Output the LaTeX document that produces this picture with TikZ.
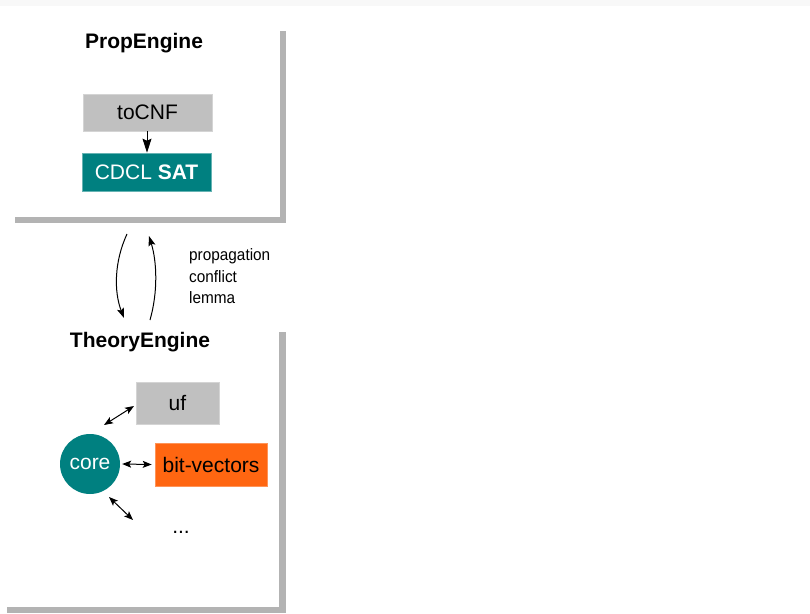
\documentclass[tikz,border=0pt]{standalone}
\usepackage{fontspec}
\setmainfont{Liberation Sans}
\newfontfamily\narrowfont[FakeStretch=0.93]{Liberation Sans}
\usetikzlibrary{arrows.meta}
\definecolor{framegray}{HTML}{B3B3B3}
\definecolor{boxgray}{HTML}{C0C0C0}
\definecolor{boxedge}{HTML}{D4D4D4}
\definecolor{tealfill}{HTML}{008080}
\definecolor{orangefill}{HTML}{FF6611}
\definecolor{stripgray}{HTML}{F8F8F8}
\tikzset{
  frame/.style={fill=framegray, draw=none},
  title/.style={font=\fontsize{21}{25}\selectfont\bfseries, anchor=base},
  plainbox/.style={fill=boxgray, draw=boxedge, line width=0.8pt, inner sep=0pt,
    font=\fontsize{21}{25}\selectfont, text=black},
  tealbox/.style={fill=tealfill, draw=tealfill!60!white, line width=0.6pt, inner sep=0pt,
    font=\fontsize{21}{25}\selectfont, text=white},
  orangebox/.style={fill=orangefill, draw=orangefill!70!white, line width=0.6pt, inner sep=0pt,
    font=\fontsize{21}{25}\selectfont, text=black},
  msg/.style={font=\narrowfont\fontsize{16.5}{19}\selectfont, anchor=base west, inner sep=0pt},
  flow/.style={line width=1pt, -{Stealth[length=14pt,width=9pt,inset=2pt]}},
  curvedflow/.style={line width=1pt, -{Stealth[length=10pt,width=7pt,inset=2pt]}},
  link/.style={line width=1pt,
    {Stealth[length=9pt,width=7pt,inset=2pt]}-{Stealth[length=9pt,width=7pt,inset=2pt]}}
}
\begin{document}
\begin{tikzpicture}[x=1pt, y=-1pt]
\useasboundingbox (0,0) rectangle (810,613);
\fill[white] (0,0) rectangle (810,613);
\fill[stripgray] (0,0) rectangle (810,5.5);

% PropEngine frame
\fill[frame] (280,31) rectangle (286,223);
\fill[frame] (15,217) rectangle (286,223);
\node[title] (prop) at (144,48.5) {PropEngine};
\node[plainbox, minimum width=129pt, minimum height=37pt] (cnf) at (147.5,112.5) {toCNF};
\node[tealbox, minimum width=129pt, minimum height=38pt] (sat) at (146.5,172) {CDCL \textbf{SAT}};
\draw[flow] (cnf.south -| 147,0) -- (sat.north -| 147,0);

% exchange between the engines
\coordinate (downA) at (127,234);
\coordinate (downB) at (124,318);
\coordinate (upA) at (150,320);
\coordinate (upB) at (149,236);
\draw[curvedflow] (downA) .. controls (114,262) and (114,292) .. (downB);
\draw[curvedflow] (upA) .. controls (158,292) and (157,262) .. (upB);
\node[msg] (m1) at (189,260) {propagation};
\node[msg] (m2) at (189,282) {conflict};
\node[msg] (m3) at (189,303.5) {lemma};

% TheoryEngine frame
\fill[frame] (279,332) rectangle (286,613);
\fill[frame] (7,607) rectangle (286,613);
\node[title] (theory) at (140,347) {TheoryEngine};
\node[plainbox, minimum width=83pt, minimum height=42pt] (uf) at (177.5,403) {uf};
\node[circle, fill=tealfill, inner sep=0pt, minimum size=60pt,
      font=\fontsize{21}{25}\selectfont, text=white] (core) at (90,464) {core};
\node[orangebox, minimum width=112pt, minimum height=43pt] (bv) at (211,464.5) {bit-vectors};
\node[font=\fontsize{21}{25}\selectfont, anchor=base] (more) at (181,533) {...};

% links between core and the theories
\coordinate (ufA) at (104,425);
\coordinate (ufB) at (134,406);
\coordinate (moreA) at (109,497);
\coordinate (moreB) at (133,520);
\path (core.east) ++(2,0) coordinate (bvA);
\path (bv.west) ++(-3,0) coordinate (bvB);
\draw[link] (ufA) -- (ufB);
\draw[link] (bvA) -- (bvB);
\draw[link] (moreA) -- (moreB);
\end{tikzpicture}
\end{document}
